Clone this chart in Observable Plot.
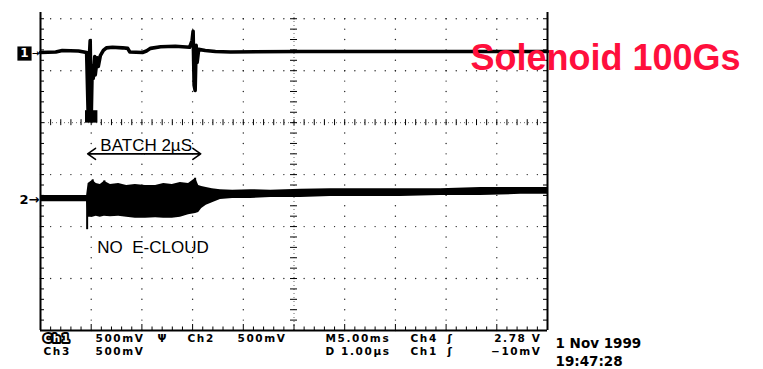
<!DOCTYPE html>
<html><head><meta charset="utf-8">
<script src="https://cdn.jsdelivr.net/npm/d3@7"></script>
<script src="https://cdn.jsdelivr.net/npm/@observablehq/plot@0.6"></script>
<style>
html,body{margin:0;padding:0;background:#fff;}
#wrap{width:763px;height:369px;overflow:hidden;}
</style></head><body><div id="wrap"></div>
<script>
// ---- Data (time in µs, vertical in screen divisions) ----
const ch1T = [0,0.30,0.43,0.75,0.91,0.94,0.96,0.98,1.00,1.02,1.04,1.07,1.08,1.12,1.14,1.18,1.24,1.30,1.42,1.62,1.72,1.76,2.01,2.09,2.17,2.37,2.66,2.94,2.99,3.01,3.03,3.05,3.07,3.09,3.12,3.25,3.45,3.75,5.13,7.50,10];
const ch1V = [1.35,1.36,1.39,1.38,1.35,0.18,1.20,1.58,0.08,1.10,0.85,1.27,0.92,1.25,1.08,1.29,1.39,1.44,1.45,1.44,1.43,1.36,1.35,1.38,1.43,1.46,1.47,1.45,1.58,1.76,0.72,0.62,1.49,1.16,1.41,1.39,1.37,1.36,1.37,1.37,1.37];

const ch2T   = [0,0.91,0.94,1.03,1.10,1.18,1.26,1.38,1.54,1.70,1.87,2.07,2.27,2.43,2.60,2.76,2.92,3.06,3.12,3.18,3.27,3.39,3.55,3.79,4.14,4.54,5.13,5.72,6.31,7.10,7.89,8.68,9.47,10];
const ch2Top = [-1.40,-1.40,-1.17,-1.11,-1.17,-1.19,-1.13,-1.19,-1.17,-1.21,-1.19,-1.21,-1.21,-1.17,-1.19,-1.15,-1.17,-1.07,-1.21,-1.23,-1.25,-1.27,-1.29,-1.30,-1.29,-1.30,-1.28,-1.27,-1.27,-1.27,-1.27,-1.25,-1.25,-1.25];
const ch2Bot = [-1.52,-1.52,-1.82,-1.82,-1.80,-1.82,-1.80,-1.81,-1.80,-1.82,-1.84,-1.84,-1.83,-1.84,-1.84,-1.82,-1.77,-1.75,-1.73,-1.65,-1.59,-1.54,-1.48,-1.46,-1.46,-1.44,-1.44,-1.42,-1.42,-1.42,-1.40,-1.40,-1.38,-1.38];

const spikeT    = [0.92, 1.03, 1.26, 3.05];
const spikeLow  = [-2.06, -1.30, -1.30, -1.30];
const spikeHigh = [-1.48, -1.10, -1.12, -1.07];

const ch1Ground = 1.33, ch2Ground = -1.49;
const glitchT = 1.00, glitchV = 0.12;

const statusRow1 = ["Ch1","500mV","Ψ","Ch2","500mV","M5.00ms","Ch4","ʃ","2.78 V"];
const statusRow2 = ["Ch3","500mV","D 1.00µs","Ch1","ʃ","−10mV"];
const dateText = ["1 Nov 1999","19:47:28"];
const noteBatch = "BATCH 2µS", noteCloud = "NO  E-CLOUD", titleText = "Solenoid 100Gs";

// ---- Layout ----
const W = 763, H = 369, ML = 40, MR = 216, MT = 12, MB = 39;
const yTop = 2.12;
const pxX = (W - ML - MR) / 10, pxY = (H - MT - MB) / (yTop + 4);

const ch1Rows = ch1T.map((t, i) => ({t, v: ch1V[i]}));
const ch2Rows = ch2T.map((t, i) => ({t, top: ch2Top[i], bot: ch2Bot[i]}));
const spikes = spikeT.map((t, i) => ({t, lo: spikeLow[i], hi: spikeHigh[i]}));

const minorX = d3.range(0, 50.5).map(i => i / 5);
const minorY = d3.range(0, 31).map(i => -4 + i / 5);
const gridDots = [];
for (const gx of [1,2,3,4,6,7,8,9]) for (const gy of minorY) gridDots.push({x: gx, y: gy});
for (const gy of [-3,-2,-1,1,2]) for (const gx of minorX) gridDots.push({x: gx, y: gy});

const kx = 3.5 / pxX, ky = 3 / pxY, bt = 4;
const centerHTicks = minorY.map(y => ({y, x1: 5 - kx, x2: 5 + kx}));
const centerVTicks = minorX.map(x => ({x, y1: -ky, y2: ky}));
const leftTicks = minorY.map(y => ({y, x1: 0, x2: bt / pxX}));
const rightTicks = minorY.map(y => ({y, x1: 10 - bt / pxX, x2: 10}));
const bottomTicks = minorX.map(x => ({x, y1: -4, y2: -4 + (Number.isInteger(x) ? 6 : 3.5) / pxY}));

const font = "DejaVu Sans";
const SFS = 10.5;
function status(txt, px, py, o = {}) {
  return Plot.text([txt], {frameAnchor: "top-left", dx: px - ML, dy: py - MT, text: d => d,
    textAnchor: "start", lineAnchor: "bottom", fontFamily: font, fontWeight: "bold", fontSize: SFS, fill: "black", ...o});
}
const row1X = [43, 95, 157, 187, 237, 325, 410, 447, 541];
const row2X = [43, 95, 325, 410, 447, 541];

const marks = [
  Plot.dot(gridDots, {x: "x", y: "y", r: 0.7, fill: "#222", stroke: null}),
  Plot.ruleX([5], {y1: -4, y2: yTop, stroke: "#000", strokeWidth: 0.6, strokeDasharray: "1,3"}),
  Plot.ruleY([0], {x1: 0, x2: 10, stroke: "#000", strokeWidth: 0.6, strokeDasharray: "1,3"}),
  Plot.ruleY(centerHTicks, {y: "y", x1: "x1", x2: "x2", stroke: "#000", strokeWidth: 1}),
  Plot.ruleX(centerVTicks, {x: "x", y1: "y1", y2: "y2", stroke: "#000", strokeWidth: 1}),
  Plot.ruleY(leftTicks, {y: "y", x1: "x1", x2: "x2", stroke: "#000", strokeWidth: 1}),
  Plot.ruleY(rightTicks, {y: "y", x1: "x1", x2: "x2", stroke: "#000", strokeWidth: 1}),
  Plot.ruleX(bottomTicks, {x: "x", y1: "y1", y2: "y2", stroke: "#000", strokeWidth: 1}),
  Plot.ruleX([0, 10], {y1: -4, y2: yTop, stroke: "#000", strokeWidth: 2}),
  Plot.ruleY([-4], {x1: 0, x2: 10, stroke: "#000", strokeWidth: 2}),
  // Ch2
  Plot.areaY(ch2Rows, {x: "t", y1: "bot", y2: "top", fill: "#000"}),
  Plot.ruleX(spikes, {x: "t", y1: "lo", y2: "hi", stroke: "#000", strokeWidth: 2}),
  // Ch1
  Plot.line(ch1Rows, {x: "t", y: "v", stroke: "#000", strokeWidth: 3.6}),
  Plot.dot([glitchV], {x: () => glitchT, y: d => d, symbol: "square", r: 7, fill: "#000", stroke: null}),
  // ground markers
  Plot.dot([ch1Ground], {x: () => 0, y: d => d, dx: -16, symbol: "square", r: 8, fill: "#000", stroke: null}),
  Plot.text([ch1Ground], {x: () => 0, y: d => d, dx: -16, text: () => "1", fill: "#fff", fontFamily: font, fontWeight: "bold", fontSize: 12}),
  Plot.text([ch1Ground], {x: () => 0, y: d => d, dx: -1, text: () => "→", textAnchor: "end", fill: "#000", fontFamily: font, fontWeight: "bold", fontSize: 9}),
  Plot.text([ch2Ground], {x: () => 0, y: d => d, dx: -1, text: () => "2→", textAnchor: "end", fill: "#000", fontFamily: font, fontWeight: "bold", fontSize: 13}),
  // annotations
  Plot.text([noteBatch], {x: () => 1.18, y: () => -0.54, text: d => d, textAnchor: "start", lineAnchor: "bottom", fontFamily: "Liberation Sans", fontSize: 17, fill: "#000"}),
  Plot.arrow([{a: 2.05, b: 0.93}, {a: 2.05, b: 3.16}], {x1: "a", x2: "b", y1: () => -0.60, y2: () => -0.60, stroke: "#000", strokeWidth: 1.6, headLength: 9, headAngle: 70}),
  Plot.text([noteCloud], {x: () => 1.12, y: () => -2.5, text: d => d, textAnchor: "start", lineAnchor: "bottom", fontFamily: "Liberation Sans", fontSize: 17, fill: "#000"}),
  Plot.text([titleText], {x: () => 8.48, y: () => 1.02, text: d => d, textAnchor: "start", lineAnchor: "bottom", fontFamily: "Liberation Sans", fontWeight: "bold", fontSize: 36, fill: "#ff0f3c"}),
  // status lines
  ...statusRow1.map((s, i) => status(s, row1X[i], 341.5, i === statusRow1.length - 1 ? {textAnchor: "end"} : i === 0 ? {fill: "#fff", stroke: "#000", strokeWidth: 4, paintOrder: "stroke"} : {})),
  ...statusRow2.map((s, i) => status(s, row2X[i], 354, i === statusRow2.length - 1 ? {textAnchor: "end"} : {})),
  status(dateText[0], 555, 347, {fontSize: 13.5}),
  status(dateText[1], 555, 365.5, {fontSize: 13.5})
];

const chart = Plot.plot({
  width: W, height: H, marginLeft: ML, marginRight: MR, marginTop: MT, marginBottom: MB,
  x: {domain: [0, 10], axis: null},
  y: {domain: [-4, yTop], axis: null},
  style: {background: "#fff", overflow: "visible"},
  marks
});
chart.querySelectorAll('g[font-size="' + SFS + '"]').forEach(g => g.setAttribute("letter-spacing", "1.6"));
document.getElementById("wrap").appendChild(chart);
</script>
</body></html>
